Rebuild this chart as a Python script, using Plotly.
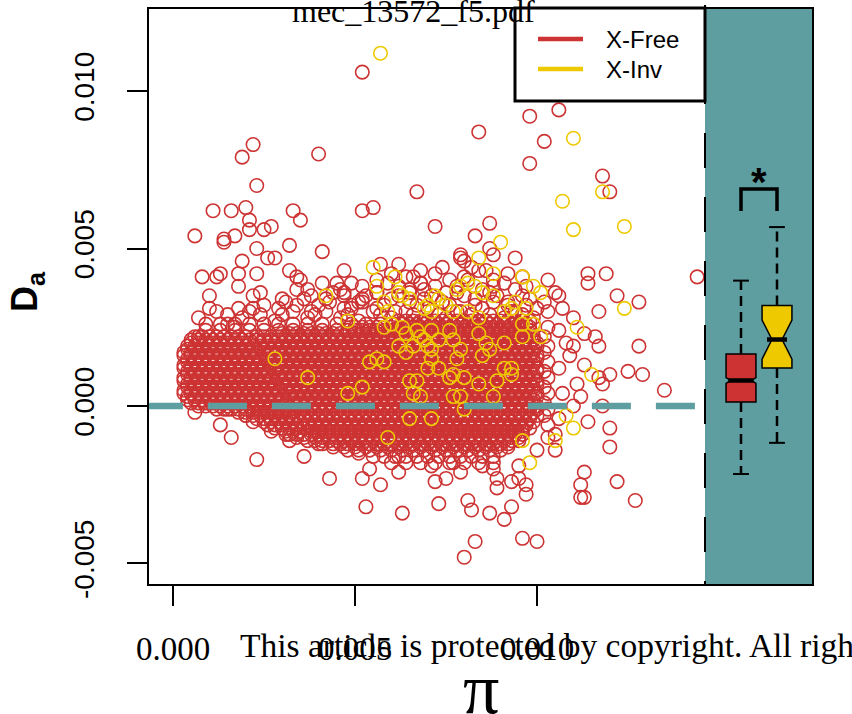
import plotly.graph_objects as go

# ---------------- data ----------------
# X-Free: isolated / sparse points (pi, D_a)
free_pi_sparse = [
    0.0052, 0.0084, 0.0106, 0.0098, 0.0102, 0.0098, 0.0118, 0.0120, 0.0022, 0.0019,
    0.0040, 0.0023, 0.0067, 0.0011, 0.0016, 0.0020, 0.0033, 0.0052, 0.0055, 0.0021,
    0.0021, 0.0035, 0.0025, 0.0027, 0.0072, 0.0087, 0.0006, 0.0014, 0.0014, 0.0017,
    0.0083, 0.0023, 0.0032, 0.0041, 0.0087, 0.0079, 0.0088, 0.0094, 0.0057, 0.0079,
    0.0026, 0.0028, 0.0019, 0.0082, 0.0047, 0.0032, 0.0008, 0.0012, 0.0013, 0.0018,
    0.0023, 0.0034, 0.0035, 0.0041, 0.0045, 0.0066, 0.0096, 0.0103, 0.0114, 0.0114,
    0.0119, 0.0144, 0.0018, 0.0024, 0.0034, 0.0037, 0.0047, 0.0069, 0.0105, 0.0106,
    0.0122, 0.0128, 0.0010, 0.0022, 0.0030, 0.0036, 0.0052, 0.0010, 0.0012, 0.0018,
    0.0022, 0.0049, 0.0117, 0.0007, 0.0009, 0.0015, 0.0017, 0.0007, 0.0113, 0.0116,
    0.0117, 0.0128, 0.0110, 0.0117, 0.0118, 0.0120, 0.0125, 0.0129, 0.0135, 0.0118,
    0.0120, 0.0120, 0.0114, 0.0105, 0.0105, 0.0103, 0.0100, 0.0113, 0.0112, 0.0112,
    0.0113, 0.0122, 0.0127, 0.0095, 0.0095, 0.0093, 0.0097, 0.0097, 0.0089, 0.0089,
    0.0088, 0.0085, 0.0077, 0.0071, 0.0079, 0.0075, 0.0072, 0.0073, 0.0081, 0.0082,
    0.0087, 0.0091, 0.0093, 0.0083, 0.0080, 0.0096, 0.0100, 0.0006, 0.0013, 0.0016,
    0.0023, 0.0015, 0.0020, 0.0022, 0.0027, 0.0031, 0.0032, 0.0036, 0.0040, 0.0043,
    0.0049, 0.0051, 0.0054, 0.0052, 0.0057, 0.0053, 0.0063, 0.0062, 0.0062, 0.0107,
    0.0110, 0.0106, 0.0109, 0.0106, 0.0111, 0.0107, 0.0110, 0.0106, 0.0113, 0.0108,
    0.0112, 0.0103, 0.0103, 0.0103, 0.0103, 0.0103, 0.0103, 0.0103, 0.0103, 0.0102,
    0.0102, 0.0102, 0.0102, 0.0102, 0.0102, 0.0102,
]
free_da_sparse = [
    0.0106, 0.0087, 0.0094, 0.0092, 0.0084, 0.0077, 0.0073, 0.0068, 0.0083, 0.0079,
    0.0080, 0.0070, 0.0068, 0.0062, 0.0062, 0.0063, 0.0062, 0.0062, 0.0063, 0.0059,
    0.0056, 0.0059, 0.0056, 0.0057, 0.0057, 0.0058, 0.0054, 0.0053, 0.0052, 0.0054,
    0.0054, 0.0050, 0.0051, 0.0049, 0.0050, 0.0048, 0.0048, 0.0047, 0.0045, 0.0047,
    0.0047, 0.0047, 0.0046, 0.0044, 0.0043, 0.0043, 0.0041, 0.0041, 0.0042, 0.0042,
    0.0042, 0.0041, 0.0040, 0.0039, 0.0039, 0.0041, 0.0041, 0.0040, 0.0042, 0.0039,
    0.0042, 0.0041, 0.0038, 0.0036, 0.0037, 0.0037, 0.0036, 0.0037, 0.0036, 0.0035,
    0.0035, 0.0033, 0.0035, 0.0035, 0.0034, 0.0034, 0.0034, 0.0031, 0.0030, 0.0031,
    0.0031, 0.0031, 0.0030, 0.0028, 0.0026, 0.0026, 0.0025, 0.0022, 0.0023, 0.0022,
    0.0019, 0.0019, 0.0019, 0.0009, 0.0007, 0.0010, 0.0011, 0.0010, 0.0005, 0.0000,
    -0.0007, -0.0013, -0.0005, -0.0014, -0.0009, -0.0010, -0.0014, -0.0021, -0.0025, -0.0029,
    -0.0029, -0.0024, -0.0030, -0.0019, -0.0023, -0.0024, -0.0028, -0.0025, -0.0023, -0.0026,
    -0.0020, -0.0019, -0.0018, -0.0019, -0.0021, -0.0023, -0.0024, -0.0031, -0.0030, -0.0033,
    -0.0034, -0.0036, -0.0032, -0.0043, -0.0048, -0.0042, -0.0043, -0.0002, -0.0006, -0.0010,
    -0.0017, -0.0001, -0.0003, -0.0005, -0.0008, -0.0009, -0.0011, -0.0016, -0.0012, -0.0023,
    -0.0011, -0.0015, -0.0020, -0.0023, -0.0025, -0.0032, -0.0034, -0.0016, -0.0021, 0.0031,
    0.0028, 0.0024, 0.0016, 0.0012, 0.0007, 0.0004, 0.0000, -0.0004, 0.0013, 0.0020,
    0.0003, 0.0030, 0.0025, 0.0019, 0.0014, 0.0009, 0.0004, -0.0001, -0.0006, 0.0033,
    0.0022, 0.0017, 0.0011, 0.0006, 0.0001, -0.0003,
]

# X-Free: the busy band just above the solid cloud (pi, D_a)
free_pi_upper = [
    0.0062, 0.0068, 0.0074, 0.0080, 0.0086,
    0.0056, 0.0060, 0.0064, 0.0068, 0.0072, 0.0076, 0.0080, 0.0084, 0.0088, 0.0092,
    0.0046, 0.0049, 0.0052, 0.0056, 0.0059, 0.0062, 0.0065, 0.0068, 0.0072, 0.0075,
    0.0078, 0.0081, 0.0085, 0.0088, 0.0091, 0.0094, 0.0097,
    0.0038, 0.0042, 0.0044, 0.0047, 0.0051, 0.0053, 0.0056, 0.0060, 0.0062, 0.0065,
    0.0069, 0.0071, 0.0074, 0.0078, 0.0080, 0.0083, 0.0087, 0.0089, 0.0092, 0.0096, 0.0098,
    0.0025, 0.0029, 0.0031, 0.0034, 0.0038, 0.0040, 0.0043, 0.0047, 0.0049, 0.0052,
    0.0056, 0.0058, 0.0061, 0.0065, 0.0067, 0.0070, 0.0074, 0.0076, 0.0079, 0.0083,
    0.0085, 0.0088, 0.0092, 0.0094, 0.0097, 0.0100,
    0.0015, 0.0019, 0.0021, 0.0024, 0.0028, 0.0030, 0.0033, 0.0037, 0.0039, 0.0042,
    0.0046, 0.0048, 0.0051, 0.0055, 0.0057, 0.0060, 0.0064, 0.0066, 0.0069, 0.0073,
    0.0075, 0.0078, 0.0082, 0.0084, 0.0087, 0.0091, 0.0093, 0.0096, 0.0099,
]
free_da_upper = [
    0.0045, 0.0043, 0.0044, 0.0046, 0.0043,
    0.0040, 0.0042, 0.0041, 0.0039, 0.0042, 0.0040, 0.0041, 0.0043, 0.0040, 0.0042,
    0.0037, 0.0039, 0.0038, 0.0036, 0.0039, 0.0038, 0.0037, 0.0039, 0.0038, 0.0036,
    0.0038, 0.0040, 0.0037, 0.0038, 0.0039, 0.0037, 0.0038,
    0.0035, 0.0034, 0.0036, 0.0035, 0.0033, 0.0035, 0.0036, 0.0034, 0.0035, 0.0036,
    0.0034, 0.0035, 0.0033, 0.0036, 0.0035, 0.0034, 0.0036, 0.0035, 0.0033, 0.0035, 0.0034,
    0.0032, 0.0031, 0.0033, 0.0032, 0.0030, 0.0032, 0.0033, 0.0031, 0.0032, 0.0033,
    0.0031, 0.0032, 0.0030, 0.0033, 0.0032, 0.0031, 0.0033, 0.0032, 0.0030, 0.0032,
    0.0031, 0.0033, 0.0032, 0.0030, 0.0032, 0.0031,
    0.0029, 0.0028, 0.0030, 0.0029, 0.0027, 0.0029, 0.0030, 0.0028, 0.0029, 0.0030,
    0.0028, 0.0029, 0.0027, 0.0030, 0.0029, 0.0028, 0.0030, 0.0029, 0.0027, 0.0029,
    0.0028, 0.0030, 0.0029, 0.0027, 0.0029, 0.0028, 0.0030, 0.0029, 0.0028,
]

# X-Free: the solid cloud, read row by row (D_a of the row, pi of the circles in it)
free_core_da = [
    0.0027, 0.0026, 0.0025, 0.0024,
    0.0023, 0.0022, 0.0021, 0.0020, 0.0019, 0.0018, 0.0017, 0.0016, 0.0015, 0.0014,
    0.0013, 0.0012, 0.0011, 0.0010, 0.0009, 0.0008, 0.0007, 0.0006, 0.0005, 0.0004,
    0.0003, 0.0002, 0.0001, 0.0000, -0.0001, -0.0002, -0.0003, -0.0004, -0.0005, -0.0006,
    -0.0007, -0.0008, -0.0009, -0.0010, -0.0011, -0.0012, -0.0013, -0.0014, -0.0016, -0.0018,
]
free_core_pi = [
    # 0.0027
    [0.0062, 0.0064, 0.0066, 0.0068, 0.0070, 0.0072, 0.0074, 0.0076, 0.0078, 0.0080,
     0.0082, 0.0084, 0.0086, 0.0088, 0.0090, 0.0092, 0.0094, 0.0096, 0.0098],
    # 0.0026
    [0.0013, 0.0017, 0.0021, 0.0025, 0.0029, 0.0033, 0.0037, 0.0041, 0.0045, 0.0049,
     0.0053, 0.0057, 0.0061, 0.0063, 0.0065, 0.0067, 0.0069, 0.0071, 0.0073, 0.0075,
     0.0077, 0.0079, 0.0081, 0.0083, 0.0085, 0.0087, 0.0089, 0.0091, 0.0093, 0.0095,
     0.0097, 0.0099],
    # 0.0025
    [0.0050, 0.0052, 0.0054, 0.0056, 0.0058, 0.0060, 0.0062, 0.0064, 0.0066, 0.0068,
     0.0070, 0.0072, 0.0074, 0.0076, 0.0078, 0.0080, 0.0082, 0.0084, 0.0086, 0.0088,
     0.0090, 0.0092, 0.0094, 0.0096, 0.0098],
    # 0.0024
    [0.0009, 0.0013, 0.0017, 0.0021, 0.0025, 0.0029, 0.0033, 0.0037, 0.0041, 0.0045,
     0.0048, 0.0050, 0.0052, 0.0054, 0.0056, 0.0058, 0.0060, 0.0062, 0.0064, 0.0066,
     0.0068, 0.0070, 0.0072, 0.0074, 0.0076, 0.0078, 0.0080, 0.0082, 0.0084, 0.0086,
     0.0088, 0.0090, 0.0092, 0.0094, 0.0096, 0.0098],
    # 0.0023
    [0.0030, 0.0032, 0.0034, 0.0036, 0.0038, 0.0040, 0.0042, 0.0044, 0.0046, 0.0048,
     0.0050, 0.0052, 0.0054, 0.0056, 0.0058, 0.0060, 0.0062, 0.0064, 0.0066, 0.0068,
     0.0070, 0.0072, 0.0074, 0.0076, 0.0078, 0.0080, 0.0082, 0.0084, 0.0086, 0.0088,
     0.0090, 0.0092, 0.0094, 0.0096, 0.0098],
    # 0.0022
    [0.0006, 0.0008, 0.0010, 0.0012, 0.0014, 0.0016, 0.0018, 0.0020, 0.0023, 0.0025,
     0.0027, 0.0029, 0.0031, 0.0033, 0.0035, 0.0037, 0.0039, 0.0041, 0.0043, 0.0045,
     0.0047, 0.0049, 0.0051, 0.0053, 0.0055, 0.0057, 0.0059, 0.0061, 0.0063, 0.0065,
     0.0067, 0.0069, 0.0071, 0.0073, 0.0075, 0.0077, 0.0079, 0.0081, 0.0083, 0.0085,
     0.0087, 0.0089, 0.0091, 0.0093, 0.0095, 0.0097, 0.0099],
    # 0.0021
    [0.0005, 0.0007, 0.0009, 0.0011, 0.0013, 0.0015, 0.0017, 0.0019, 0.0021, 0.0023,
     0.0025, 0.0027, 0.0029, 0.0031, 0.0033, 0.0035, 0.0037, 0.0039, 0.0041, 0.0043,
     0.0045, 0.0047, 0.0049, 0.0051, 0.0053, 0.0055, 0.0057, 0.0059, 0.0061, 0.0063,
     0.0065, 0.0067, 0.0069, 0.0071, 0.0073, 0.0075, 0.0077, 0.0079, 0.0081, 0.0083,
     0.0085, 0.0087, 0.0089, 0.0091, 0.0093, 0.0095, 0.0097, 0.0099],
    # 0.0020
    [0.0005, 0.0007, 0.0009, 0.0011, 0.0013, 0.0015, 0.0017, 0.0019, 0.0021, 0.0024,
     0.0026, 0.0028, 0.0030, 0.0032, 0.0034, 0.0036, 0.0038, 0.0040, 0.0042, 0.0044,
     0.0046, 0.0048, 0.0050, 0.0052, 0.0054, 0.0056, 0.0058, 0.0060, 0.0062, 0.0064,
     0.0066, 0.0068, 0.0070, 0.0072, 0.0074, 0.0076, 0.0078, 0.0080, 0.0082, 0.0084,
     0.0086, 0.0088, 0.0090, 0.0092, 0.0094, 0.0096, 0.0098, 0.0100],
    # 0.0019
    [0.0004, 0.0006, 0.0008, 0.0010, 0.0012, 0.0014, 0.0016, 0.0018, 0.0020, 0.0022,
     0.0024, 0.0026, 0.0028, 0.0030, 0.0032, 0.0034, 0.0036, 0.0038, 0.0040, 0.0042,
     0.0044, 0.0046, 0.0048, 0.0050, 0.0052, 0.0054, 0.0056, 0.0058, 0.0060, 0.0062,
     0.0064, 0.0066, 0.0068, 0.0070, 0.0072, 0.0074, 0.0076, 0.0078, 0.0080, 0.0082,
     0.0084, 0.0086, 0.0088, 0.0090, 0.0092, 0.0094, 0.0096, 0.0098, 0.0100],
    # 0.0018
    [0.0004, 0.0006, 0.0008, 0.0010, 0.0012, 0.0014, 0.0016, 0.0018, 0.0020, 0.0022,
     0.0025, 0.0027, 0.0029, 0.0031, 0.0033, 0.0035, 0.0037, 0.0039, 0.0041, 0.0043,
     0.0045, 0.0047, 0.0049, 0.0051, 0.0053, 0.0055, 0.0057, 0.0059, 0.0061, 0.0063,
     0.0065, 0.0067, 0.0069, 0.0071, 0.0073, 0.0075, 0.0077, 0.0079, 0.0081, 0.0083,
     0.0085, 0.0087, 0.0089, 0.0091, 0.0093, 0.0095, 0.0097, 0.0099],
    # 0.0017
    [0.0003, 0.0005, 0.0007, 0.0009, 0.0011, 0.0013, 0.0015, 0.0017, 0.0019, 0.0021,
     0.0023, 0.0025, 0.0027, 0.0029, 0.0031, 0.0033, 0.0035, 0.0037, 0.0039, 0.0041,
     0.0043, 0.0045, 0.0047, 0.0049, 0.0051, 0.0053, 0.0055, 0.0057, 0.0059, 0.0061,
     0.0063, 0.0065, 0.0067, 0.0069, 0.0071, 0.0073, 0.0075, 0.0077, 0.0079, 0.0081,
     0.0083, 0.0085, 0.0087, 0.0089, 0.0091, 0.0093, 0.0095, 0.0097, 0.0099],
    # 0.0016
    [0.0003, 0.0005, 0.0007, 0.0009, 0.0011, 0.0013, 0.0015, 0.0017, 0.0019, 0.0021,
     0.0023, 0.0026, 0.0028, 0.0030, 0.0032, 0.0034, 0.0036, 0.0038, 0.0040, 0.0042,
     0.0044, 0.0046, 0.0048, 0.0050, 0.0052, 0.0054, 0.0056, 0.0058, 0.0060, 0.0062,
     0.0064, 0.0066, 0.0068, 0.0070, 0.0072, 0.0074, 0.0076, 0.0078, 0.0080, 0.0082,
     0.0084, 0.0086, 0.0088, 0.0090, 0.0092, 0.0094, 0.0096, 0.0098, 0.0100],
    # 0.0015
    [0.0004, 0.0006, 0.0008, 0.0010, 0.0012, 0.0014, 0.0016, 0.0018, 0.0020,
     0.0022, 0.0024, 0.0026, 0.0028, 0.0030, 0.0032, 0.0034, 0.0036, 0.0038, 0.0040,
     0.0042, 0.0044, 0.0046, 0.0048, 0.0050, 0.0052, 0.0054, 0.0056, 0.0058, 0.0060,
     0.0062, 0.0064, 0.0066, 0.0068, 0.0070, 0.0072, 0.0074, 0.0076, 0.0078, 0.0080,
     0.0082, 0.0084, 0.0086, 0.0088, 0.0090, 0.0092, 0.0094, 0.0096, 0.0098, 0.0100],
    # 0.0014
    [0.0004, 0.0006, 0.0008, 0.0010, 0.0012, 0.0014, 0.0016, 0.0018, 0.0020,
     0.0022, 0.0024, 0.0027, 0.0029, 0.0031, 0.0033, 0.0035, 0.0037, 0.0039, 0.0041,
     0.0043, 0.0045, 0.0047, 0.0049, 0.0051, 0.0053, 0.0055, 0.0057, 0.0059, 0.0061,
     0.0063, 0.0065, 0.0067, 0.0069, 0.0071, 0.0073, 0.0075, 0.0077, 0.0079, 0.0081,
     0.0083, 0.0085, 0.0087, 0.0089, 0.0091, 0.0093, 0.0095, 0.0097, 0.0099],
    # 0.0013
    [0.0003, 0.0005, 0.0007, 0.0009, 0.0011, 0.0013, 0.0015, 0.0017, 0.0019, 0.0021,
     0.0023, 0.0025, 0.0027, 0.0029, 0.0031, 0.0033, 0.0035, 0.0037, 0.0039, 0.0041,
     0.0043, 0.0045, 0.0047, 0.0049, 0.0051, 0.0053, 0.0055, 0.0057, 0.0059, 0.0061,
     0.0063, 0.0065, 0.0067, 0.0069, 0.0071, 0.0073, 0.0075, 0.0077, 0.0079, 0.0081,
     0.0083, 0.0085, 0.0087, 0.0089, 0.0091, 0.0093, 0.0095, 0.0097, 0.0099],
    # 0.0012
    [0.0003, 0.0005, 0.0007, 0.0009, 0.0011, 0.0013, 0.0015, 0.0017, 0.0019, 0.0021,
     0.0023, 0.0025, 0.0028, 0.0030, 0.0032, 0.0034, 0.0036, 0.0038, 0.0040, 0.0042,
     0.0044, 0.0046, 0.0048, 0.0050, 0.0052, 0.0054, 0.0056, 0.0058, 0.0060, 0.0062,
     0.0064, 0.0066, 0.0068, 0.0070, 0.0072, 0.0074, 0.0076, 0.0078, 0.0080, 0.0082,
     0.0084, 0.0086, 0.0088, 0.0090, 0.0092, 0.0094, 0.0096, 0.0098, 0.0100],
    # 0.0011
    [0.0004, 0.0006, 0.0008, 0.0010, 0.0012, 0.0014, 0.0016, 0.0018, 0.0020,
     0.0022, 0.0024, 0.0026, 0.0028, 0.0030, 0.0032, 0.0034, 0.0036, 0.0038, 0.0040,
     0.0042, 0.0044, 0.0046, 0.0048, 0.0050, 0.0052, 0.0054, 0.0056, 0.0058, 0.0060,
     0.0062, 0.0064, 0.0066, 0.0068, 0.0070, 0.0072, 0.0074, 0.0076, 0.0078, 0.0080,
     0.0082, 0.0084, 0.0086, 0.0088, 0.0090, 0.0092, 0.0094, 0.0096, 0.0098, 0.0100],
    # 0.0010
    [0.0004, 0.0006, 0.0008, 0.0010, 0.0012, 0.0014, 0.0016, 0.0018, 0.0020,
     0.0022, 0.0024, 0.0026, 0.0029, 0.0031, 0.0033, 0.0035, 0.0037, 0.0039, 0.0041,
     0.0043, 0.0045, 0.0047, 0.0049, 0.0051, 0.0053, 0.0055, 0.0057, 0.0059, 0.0061,
     0.0063, 0.0065, 0.0067, 0.0069, 0.0071, 0.0073, 0.0075, 0.0077, 0.0079, 0.0081,
     0.0083, 0.0085, 0.0087, 0.0089, 0.0091, 0.0093, 0.0095, 0.0097, 0.0099],
    # 0.0009
    [0.0003, 0.0005, 0.0007, 0.0009, 0.0011, 0.0013, 0.0015, 0.0017, 0.0019, 0.0021,
     0.0023, 0.0025, 0.0027, 0.0029, 0.0031, 0.0033, 0.0035, 0.0037, 0.0039, 0.0041,
     0.0043, 0.0045, 0.0047, 0.0049, 0.0051, 0.0053, 0.0055, 0.0057, 0.0059, 0.0061,
     0.0063, 0.0065, 0.0067, 0.0069, 0.0071, 0.0073, 0.0075, 0.0077, 0.0079, 0.0081,
     0.0083, 0.0085, 0.0087, 0.0089, 0.0091, 0.0093, 0.0095, 0.0097, 0.0099],
    # 0.0008
    [0.0003, 0.0005, 0.0007, 0.0009, 0.0011, 0.0013, 0.0015, 0.0017, 0.0019, 0.0021,
     0.0023, 0.0025, 0.0027, 0.0030, 0.0032, 0.0034, 0.0036, 0.0038, 0.0040, 0.0042,
     0.0044, 0.0046, 0.0048, 0.0050, 0.0052, 0.0054, 0.0056, 0.0058, 0.0060, 0.0062,
     0.0064, 0.0066, 0.0068, 0.0070, 0.0072, 0.0074, 0.0076, 0.0078, 0.0080, 0.0082,
     0.0084, 0.0086, 0.0088, 0.0090, 0.0092, 0.0094, 0.0096, 0.0098, 0.0100],
    # 0.0007
    [0.0004, 0.0006, 0.0008, 0.0010, 0.0012, 0.0014, 0.0016, 0.0018, 0.0020,
     0.0022, 0.0024, 0.0026, 0.0028, 0.0030, 0.0032, 0.0034, 0.0036, 0.0038, 0.0040,
     0.0042, 0.0044, 0.0046, 0.0048, 0.0050, 0.0052, 0.0054, 0.0056, 0.0058, 0.0060,
     0.0062, 0.0064, 0.0066, 0.0068, 0.0070, 0.0072, 0.0074, 0.0076, 0.0078, 0.0080,
     0.0082, 0.0084, 0.0086, 0.0088, 0.0090, 0.0092, 0.0094, 0.0096, 0.0098, 0.0100],
    # 0.0006
    [0.0004, 0.0006, 0.0008, 0.0010, 0.0012, 0.0014, 0.0016, 0.0018, 0.0020,
     0.0022, 0.0024, 0.0026, 0.0028, 0.0031, 0.0033, 0.0035, 0.0037, 0.0039, 0.0041,
     0.0043, 0.0045, 0.0047, 0.0049, 0.0051, 0.0053, 0.0055, 0.0057, 0.0059, 0.0061,
     0.0063, 0.0065, 0.0067, 0.0069, 0.0071, 0.0073, 0.0075, 0.0077, 0.0079, 0.0081,
     0.0083, 0.0085, 0.0087, 0.0089, 0.0091, 0.0093, 0.0095, 0.0097, 0.0099],
    # 0.0005
    [0.0003, 0.0005, 0.0007, 0.0009, 0.0011, 0.0013, 0.0015, 0.0017, 0.0019, 0.0021,
     0.0023, 0.0025, 0.0027, 0.0029, 0.0031, 0.0033, 0.0035, 0.0037, 0.0039, 0.0041,
     0.0043, 0.0045, 0.0047, 0.0049, 0.0051, 0.0053, 0.0055, 0.0057, 0.0059, 0.0061,
     0.0063, 0.0065, 0.0067, 0.0069, 0.0071, 0.0073, 0.0075, 0.0077, 0.0079, 0.0081,
     0.0083, 0.0085, 0.0087, 0.0089, 0.0091, 0.0093, 0.0095, 0.0097, 0.0099],
    # 0.0004
    [0.0003, 0.0005, 0.0007, 0.0009, 0.0011, 0.0013, 0.0015, 0.0017, 0.0019, 0.0021,
     0.0023, 0.0025, 0.0027, 0.0029, 0.0032, 0.0034, 0.0036, 0.0038, 0.0040, 0.0042,
     0.0044, 0.0046, 0.0048, 0.0050, 0.0052, 0.0054, 0.0056, 0.0058, 0.0060, 0.0062,
     0.0064, 0.0066, 0.0068, 0.0070, 0.0072, 0.0074, 0.0076, 0.0078, 0.0080, 0.0082,
     0.0084, 0.0086, 0.0088, 0.0090, 0.0092, 0.0094, 0.0096, 0.0098, 0.0100],
    # 0.0003
    [0.0004, 0.0006, 0.0008, 0.0010, 0.0012, 0.0014, 0.0016, 0.0018, 0.0020, 0.0022,
     0.0024, 0.0026, 0.0028, 0.0030, 0.0032, 0.0034, 0.0036, 0.0038, 0.0040, 0.0042,
     0.0044, 0.0046, 0.0048, 0.0050, 0.0052, 0.0054, 0.0056, 0.0058, 0.0060, 0.0062,
     0.0064, 0.0066, 0.0068, 0.0070, 0.0072, 0.0074, 0.0076, 0.0078, 0.0080, 0.0082,
     0.0084, 0.0086, 0.0088, 0.0090, 0.0092, 0.0094, 0.0096, 0.0098, 0.0100],
    # 0.0002
    [0.0004, 0.0006, 0.0008, 0.0010, 0.0012, 0.0014, 0.0016, 0.0018, 0.0020, 0.0022,
     0.0024, 0.0026, 0.0028, 0.0030, 0.0033, 0.0035, 0.0037, 0.0039, 0.0041, 0.0043,
     0.0045, 0.0047, 0.0049, 0.0051, 0.0053, 0.0055, 0.0057, 0.0059, 0.0061, 0.0063,
     0.0065, 0.0067, 0.0069, 0.0071, 0.0073, 0.0075, 0.0077, 0.0079, 0.0081, 0.0083,
     0.0085, 0.0087, 0.0089, 0.0091, 0.0093, 0.0095, 0.0097, 0.0099],
    # 0.0001
    [0.0005, 0.0007, 0.0009, 0.0011, 0.0013, 0.0015, 0.0017, 0.0019, 0.0021, 0.0023,
     0.0025, 0.0027, 0.0029, 0.0031, 0.0033, 0.0035, 0.0037, 0.0039, 0.0041, 0.0043,
     0.0045, 0.0047, 0.0049, 0.0051, 0.0053, 0.0055, 0.0057, 0.0059, 0.0061, 0.0063,
     0.0065, 0.0067, 0.0069, 0.0071, 0.0073, 0.0075, 0.0077, 0.0079, 0.0081, 0.0083,
     0.0085, 0.0087, 0.0089, 0.0091, 0.0093, 0.0095, 0.0097, 0.0099],
    # 0.0000
    [0.0007, 0.0009, 0.0011, 0.0013, 0.0015, 0.0017, 0.0019, 0.0021, 0.0023, 0.0025,
     0.0027, 0.0029, 0.0031, 0.0034, 0.0036, 0.0038, 0.0040, 0.0042, 0.0044, 0.0046,
     0.0048, 0.0050, 0.0052, 0.0054, 0.0056, 0.0058, 0.0060, 0.0062, 0.0064, 0.0066,
     0.0068, 0.0070, 0.0072, 0.0074, 0.0076, 0.0078, 0.0080, 0.0082, 0.0084, 0.0086,
     0.0088, 0.0090, 0.0092, 0.0094, 0.0096, 0.0098, 0.0100],
    # -0.0001
    [0.0012, 0.0014, 0.0016, 0.0018, 0.0020, 0.0022, 0.0024, 0.0026, 0.0028, 0.0030,
     0.0032, 0.0034, 0.0036, 0.0038, 0.0040, 0.0042, 0.0044, 0.0046, 0.0048, 0.0050,
     0.0052, 0.0054, 0.0056, 0.0058, 0.0060, 0.0062, 0.0064, 0.0066, 0.0068, 0.0070,
     0.0072, 0.0074, 0.0076, 0.0078, 0.0080, 0.0082, 0.0084, 0.0086, 0.0088, 0.0090,
     0.0092, 0.0094, 0.0096, 0.0098, 0.0100],
    # -0.0002
    [0.0018, 0.0020, 0.0022, 0.0024, 0.0026, 0.0028, 0.0030, 0.0032, 0.0035, 0.0037,
     0.0039, 0.0041, 0.0043, 0.0045, 0.0047, 0.0049, 0.0051, 0.0053, 0.0055, 0.0057,
     0.0059, 0.0061, 0.0063, 0.0065, 0.0067, 0.0069, 0.0071, 0.0073, 0.0075, 0.0077,
     0.0079, 0.0081, 0.0083, 0.0085, 0.0087, 0.0089, 0.0091, 0.0093, 0.0095, 0.0097, 0.0099],
    # -0.0003
    [0.0020, 0.0022, 0.0024, 0.0026, 0.0028, 0.0030, 0.0032, 0.0034, 0.0036, 0.0038,
     0.0040, 0.0042, 0.0044, 0.0046, 0.0048, 0.0050, 0.0052, 0.0054, 0.0056, 0.0058,
     0.0060, 0.0062, 0.0064, 0.0066, 0.0068, 0.0070, 0.0072, 0.0074, 0.0076, 0.0078,
     0.0080, 0.0082, 0.0084, 0.0086, 0.0088, 0.0090, 0.0092, 0.0094, 0.0096, 0.0098, 0.0100],
    # -0.0004
    [0.0023, 0.0025, 0.0027, 0.0029, 0.0031, 0.0033, 0.0036, 0.0038, 0.0040, 0.0042,
     0.0044, 0.0046, 0.0048, 0.0050, 0.0052, 0.0054, 0.0056, 0.0058, 0.0060, 0.0062,
     0.0064, 0.0066, 0.0068, 0.0070, 0.0072, 0.0074, 0.0076, 0.0078, 0.0080, 0.0082,
     0.0084, 0.0086, 0.0088, 0.0090, 0.0092, 0.0094, 0.0096, 0.0098],
    # -0.0005
    [0.0025, 0.0027, 0.0029, 0.0031, 0.0033, 0.0035, 0.0037, 0.0039, 0.0041, 0.0043,
     0.0045, 0.0047, 0.0049, 0.0051, 0.0053, 0.0055, 0.0057, 0.0059, 0.0061, 0.0063,
     0.0065, 0.0067, 0.0069, 0.0071, 0.0073, 0.0075, 0.0077, 0.0079, 0.0081, 0.0083,
     0.0085, 0.0087, 0.0089, 0.0091, 0.0093, 0.0095, 0.0097, 0.0099],
    # -0.0006
    [0.0026, 0.0028, 0.0030, 0.0032, 0.0034, 0.0037, 0.0039, 0.0041, 0.0043, 0.0045,
     0.0047, 0.0049, 0.0051, 0.0053, 0.0055, 0.0057, 0.0059, 0.0061, 0.0063, 0.0065,
     0.0067, 0.0069, 0.0071, 0.0073, 0.0075, 0.0077, 0.0079, 0.0081, 0.0083, 0.0085,
     0.0087, 0.0089, 0.0091, 0.0093, 0.0095, 0.0097],
    # -0.0007
    [0.0028, 0.0030, 0.0032, 0.0034, 0.0036, 0.0038, 0.0040, 0.0042, 0.0044, 0.0046,
     0.0048, 0.0050, 0.0052, 0.0054, 0.0056, 0.0058, 0.0060, 0.0062, 0.0064, 0.0066,
     0.0068, 0.0070, 0.0072, 0.0074, 0.0076, 0.0078, 0.0080, 0.0082, 0.0084, 0.0086,
     0.0088, 0.0090, 0.0092, 0.0094, 0.0096, 0.0098],
    # -0.0008
    [0.0031, 0.0033, 0.0035, 0.0038, 0.0040, 0.0042, 0.0044, 0.0046, 0.0048, 0.0050,
     0.0052, 0.0054, 0.0056, 0.0058, 0.0060, 0.0062, 0.0064, 0.0066, 0.0068, 0.0070,
     0.0072, 0.0074, 0.0076, 0.0078, 0.0080, 0.0082, 0.0084, 0.0086, 0.0088, 0.0090,
     0.0092, 0.0094, 0.0096],
    # -0.0009
    [0.0032, 0.0034, 0.0036, 0.0038, 0.0040, 0.0042, 0.0044, 0.0046, 0.0048, 0.0050,
     0.0052, 0.0054, 0.0056, 0.0058, 0.0060, 0.0062, 0.0064, 0.0066, 0.0068, 0.0070,
     0.0072, 0.0074, 0.0076, 0.0078, 0.0080, 0.0082, 0.0084, 0.0086, 0.0088, 0.0090,
     0.0092, 0.0094, 0.0096],
    # -0.0010
    [0.0034, 0.0036, 0.0039, 0.0041, 0.0043, 0.0045, 0.0047, 0.0049, 0.0051, 0.0053,
     0.0055, 0.0057, 0.0059, 0.0061, 0.0063, 0.0065, 0.0067, 0.0069, 0.0071, 0.0073,
     0.0075, 0.0077, 0.0079, 0.0081, 0.0083, 0.0085, 0.0087, 0.0089, 0.0091, 0.0093, 0.0095],
    # -0.0011
    [0.0037, 0.0039, 0.0041, 0.0043, 0.0045, 0.0047, 0.0049, 0.0051, 0.0053, 0.0055,
     0.0057, 0.0059, 0.0061, 0.0063, 0.0065, 0.0067, 0.0069, 0.0071, 0.0073, 0.0075,
     0.0077, 0.0079, 0.0081, 0.0083, 0.0085, 0.0087, 0.0089, 0.0091, 0.0093, 0.0095],
    # -0.0012
    [0.0041, 0.0044, 0.0046, 0.0048, 0.0050, 0.0052, 0.0054, 0.0056, 0.0058, 0.0060,
     0.0062, 0.0064, 0.0066, 0.0068, 0.0070, 0.0072, 0.0074, 0.0076, 0.0078, 0.0080,
     0.0082, 0.0084, 0.0086, 0.0088, 0.0090, 0.0092],
    # -0.0013
    [0.0044, 0.0047, 0.0050, 0.0053, 0.0056, 0.0059, 0.0062, 0.0065, 0.0068, 0.0071,
     0.0074, 0.0077, 0.0080, 0.0083, 0.0086, 0.0089, 0.0092],
    # -0.0014
    [0.0048, 0.0051, 0.0054, 0.0057, 0.0060, 0.0063, 0.0066, 0.0069, 0.0072, 0.0075,
     0.0078, 0.0081, 0.0084, 0.0087, 0.0090],
    # -0.0016
    [0.0055, 0.0058, 0.0061, 0.0064, 0.0067, 0.0070, 0.0073, 0.0076, 0.0079, 0.0082,
     0.0085, 0.0088],
    # -0.0018
    [0.0060, 0.0064, 0.0068, 0.0072, 0.0076, 0.0080, 0.0084, 0.0088],
]

# X-Inv points (pi, D_a)
inv_pi = [
    0.0057, 0.0110, 0.0118, 0.0107, 0.0110, 0.0124, 0.0090, 0.0084, 0.0088, 0.0096,
    0.0099, 0.0101, 0.0124, 0.0111, 0.0115, 0.0055, 0.0056, 0.0061, 0.0063, 0.0065,
    0.0048, 0.0042, 0.0058, 0.0059, 0.0060, 0.0058, 0.0069, 0.0071, 0.0073, 0.0075,
    0.0078, 0.0079, 0.0081, 0.0083, 0.0085, 0.0088, 0.0077, 0.0081, 0.0084, 0.0091,
    0.0093, 0.0094, 0.0097, 0.0096, 0.0099, 0.0101, 0.0096, 0.0091, 0.0062, 0.0064,
    0.0066, 0.0068, 0.0071, 0.0073, 0.0071, 0.0071, 0.0070, 0.0073, 0.0076, 0.0077,
    0.0079, 0.0078, 0.0077, 0.0080, 0.0084, 0.0086, 0.0087, 0.0085, 0.0091, 0.0093,
    0.0093, 0.0089, 0.0084, 0.0077, 0.0079, 0.0088, 0.0067, 0.0066, 0.0054, 0.0056,
    0.0058, 0.0048, 0.0052, 0.0064, 0.0067, 0.0028, 0.0037, 0.0063, 0.0062, 0.0070,
    0.0072, 0.0069, 0.0070, 0.0065, 0.0068, 0.0076, 0.0065, 0.0071, 0.0059, 0.0080,
    0.0096, 0.0098, 0.0105, 0.0108, 0.0110,
]
inv_da = [
    0.0112, 0.0085, 0.0068, 0.0065, 0.0056, 0.0057, 0.0052, 0.0047, 0.0042, 0.0041,
    0.0038, 0.0036, 0.0031, 0.0025, 0.0010, 0.0044, 0.0038, 0.0041, 0.0035, 0.0034,
    0.0027, 0.0035, 0.0033, 0.0030, 0.0026, 0.0025, 0.0031, 0.0030, 0.0034, 0.0032,
    0.0037, 0.0038, 0.0039, 0.0038, 0.0036, 0.0035, 0.0030, 0.0030, 0.0028, 0.0030,
    0.0031, 0.0033, 0.0031, 0.0026, 0.0026, 0.0022, 0.0022, 0.0020, 0.0019, 0.0017,
    0.0019, 0.0022, 0.0024, 0.0021, 0.0018, 0.0015, 0.0012, 0.0012, 0.0024, 0.0021,
    0.0018, 0.0015, 0.0010, 0.0009, 0.0023, 0.0020, 0.0018, 0.0016, 0.0012, 0.0012,
    0.0010, 0.0008, 0.0007, 0.0003, 0.0003, 0.0003, 0.0008, 0.0004, 0.0014, 0.0015,
    0.0014, 0.0004, 0.0006, 0.0023, 0.0024, 0.0015, 0.0009, 0.0025, 0.0036, 0.0032,
    0.0035, 0.0021, 0.0019, 0.0008, 0.0003, 0.0009, -0.0004, -0.0004, -0.0010, -0.0001,
    -0.0011, -0.0018, -0.0011, -0.0003, -0.0007,
]

# box-plot summary per group (D_a)
groups = ["X-Free", "X-Inv"]
group_colors = ["#CD3333", "#EEC900"]
box_pos = [1, 2]
box_q1 = [0.00013, 0.00121]
box_median = [0.00081, 0.00211]
box_q3 = [0.00165, 0.00319]
box_whisker_low = [-0.00216, -0.00117]
box_whisker_high = [0.00398, 0.00568]
box_notchspan = [0.00009, 0.00062]
box_notchwidth = [0.15, 0.33]
bracket_low = 0.00619
bracket_high = 0.00689
star_y = 0.0071

x_ticks = [0.0, 0.005, 0.010]
x_ticklabels = ["0.000", "0.005", "0.010"]
y_ticks = [-0.005, 0.0, 0.005, 0.010]
y_ticklabels = ["-0.005", "0.000", "0.005", "0.010"]

# ---------------- figure ----------------
TEAL = "#5F9EA0"
free_pi = list(free_pi_sparse) + list(free_pi_upper)
free_da = list(free_da_sparse) + list(free_da_upper)
for d, row in zip(free_core_da, free_core_pi):
    free_pi += row
    free_da += [d] * len(row)

fig = go.Figure()
fig.add_trace(go.Scatter(
    x=free_pi, y=free_da, mode="markers", name="X-Free", showlegend=False,
    marker=dict(symbol="circle-open", size=13.5, color=group_colors[0], line=dict(width=1.6)),
    hoverinfo="skip"))
fig.add_trace(go.Scatter(
    x=inv_pi, y=inv_da, mode="markers", name="X-Inv", showlegend=False,
    marker=dict(symbol="circle-open", size=13.5, color=group_colors[1], line=dict(width=1.6)),
    hoverinfo="skip"))
# dashed reference line at D_a = 0
fig.add_trace(go.Scatter(
    x=[-0.0008, 0.01434], y=[0, 0], mode="lines", showlegend=False, hoverinfo="skip",
    line=dict(color=TEAL, width=6.5, dash="39px,25px")))

# box plots in the right panel
bw = 0.83
for i in range(2):
    fig.add_trace(go.Box(
        x=[box_pos[i]], q1=[box_q1[i]], median=[box_median[i]], q3=[box_q3[i]],
        lowerfence=[box_q1[i]], upperfence=[box_q3[i]],
        notched=True, notchspan=[box_notchspan[i]], notchwidth=box_notchwidth[i],
        width=bw, whiskerwidth=0, boxpoints=False, name=groups[i],
        fillcolor=group_colors[i], line=dict(color="black", width=1.5),
        xaxis="x2", yaxis="y", showlegend=False, hoverinfo="skip"))
    p = box_pos[i]
    for a, b in [(box_q3[i], box_whisker_high[i]), (box_q1[i], box_whisker_low[i])]:
        fig.add_trace(go.Scatter(
            x=[p, p], y=[a, b], mode="lines", xaxis="x2", yaxis="y", showlegend=False,
            hoverinfo="skip", line=dict(color="black", width=2.5, dash="10px,6px")))
    for w in [box_whisker_high[i], box_whisker_low[i]]:
        fig.add_trace(go.Scatter(
            x=[p - 0.22, p + 0.22], y=[w, w], mode="lines", xaxis="x2", yaxis="y",
            showlegend=False, hoverinfo="skip", line=dict(color="black", width=2)))
    hw = bw / 2 * (1 - box_notchwidth[i])
    fig.add_trace(go.Scatter(
        x=[p - hw, p + hw], y=[box_median[i], box_median[i]], mode="lines",
        xaxis="x2", yaxis="y", showlegend=False, hoverinfo="skip",
        line=dict(color="black", width=4.5)))

# significance bracket
fig.add_trace(go.Scatter(
    x=[box_pos[0], box_pos[0], box_pos[1], box_pos[1]],
    y=[bracket_low, bracket_high, bracket_high, bracket_low],
    mode="lines", xaxis="x2", yaxis="y", showlegend=False, hoverinfo="skip",
    line=dict(color="black", width=3.5)))

PX0, PX1, PY0, PY1 = 148, 813, 8, 585
def px(x):
    return (x - PX0) / (PX1 - PX0)
def py(y):
    return (PY1 - y) / (PY1 - PY0)

split = px(705)
shapes = [
    dict(type="rect", xref="x2 domain", yref="y domain", x0=0, x1=1, y0=0, y1=1,
         fillcolor=TEAL, line=dict(width=0), layer="below"),
    dict(type="line", xref="paper", yref="paper", x0=split, x1=split, y0=py(5), y1=0,
         line=dict(color="black", width=2, dash="35px,29px"), layer="above"),
    dict(type="rect", xref="paper", yref="paper", x0=0, x1=1, y0=0, y1=1,
         line=dict(color="black", width=2), fillcolor="rgba(0,0,0,0)", layer="above"),
    # legend box
    dict(type="rect", xref="paper", yref="paper", x0=px(515), x1=split, y0=py(101), y1=1,
         line=dict(color="black", width=3), fillcolor="white", layer="above"),
    dict(type="line", xref="paper", yref="paper", x0=px(538), x1=px(583), y0=py(39), y1=py(39),
         line=dict(color=group_colors[0], width=4.5), layer="above"),
    dict(type="line", xref="paper", yref="paper", x0=px(538), x1=px(583), y0=py(69), y1=py(69),
         line=dict(color=group_colors[1], width=4.5), layer="above"),
]

sans = "Liberation Sans, Arial, sans-serif"
serif = "Liberation Serif, Times New Roman, serif"
annotations = [
    dict(text=groups[0], xref="paper", yref="paper", x=px(604), y=py(40), xanchor="left",
         yanchor="middle", showarrow=False, font=dict(family=sans, size=24, color="black")),
    dict(text=groups[1], xref="paper", yref="paper", x=px(604), y=py(70), xanchor="left",
         yanchor="middle", showarrow=False, font=dict(family=sans, size=24, color="black")),
    dict(text="<b>*</b>", xref="x2", yref="y", x=1.5, y=star_y, showarrow=False,
         xanchor="center", yanchor="middle", font=dict(family=sans, size=40, color="black")),
    dict(text="mec_13572_f5.pdf", xref="paper", yref="paper", x=px(413), y=py(11),
         xanchor="center", yanchor="middle", showarrow=False,
         font=dict(family=serif, size=32, color="black")),
    dict(text="This article is protected by copyright. All righ", xref="paper", yref="paper",
         x=px(238), y=py(645), xanchor="left", yanchor="middle", showarrow=False,
         font=dict(family=serif, size=33.5, color="black")),
    dict(text="π", xref="paper", yref="paper", x=px(481), y=py(689), xanchor="center",
         yanchor="middle", showarrow=False, font=dict(family=serif, size=72, color="black")),
    dict(text="<b>D<sub>a</sub></b>", xref="paper", yref="paper", x=px(27), y=py(292),
         xanchor="center", yanchor="middle", textangle=-90, showarrow=False,
         font=dict(family=sans, size=36, color="black")),
]

fig.update_layout(
    template="none",
    width=852, height=714,
    margin=dict(l=PX0, r=852 - PX1, t=PY0, b=714 - PY1, pad=0),
    paper_bgcolor="white", plot_bgcolor="white",
    showlegend=False,
    xaxis=dict(domain=[0, split], range=[-0.000687, 0.014615], tickvals=x_ticks,
               ticktext=x_ticklabels, ticks="outside", ticklen=20, tickwidth=1.5,
               tickcolor="black", showline=False, showgrid=False, zeroline=False,
               tickfont=dict(family=serif, size=33, color="black"),
               ticklabelstandoff=14, automargin=False, fixedrange=True),
    xaxis2=dict(domain=[split, 1], range=[0, 3], anchor="y", visible=False,
                showgrid=False, zeroline=False, fixedrange=True),
    yaxis=dict(range=[-0.005683, 0.012635], tickvals=y_ticks, ticktext=y_ticklabels,
               ticks="outside", ticklen=20, tickwidth=1.5, tickcolor="black",
               tickangle=-90, showline=False, showgrid=False, zeroline=False,
               tickfont=dict(family=sans, size=28, color="black"),
               ticklabelstandoff=22, automargin=False, fixedrange=True),
    shapes=shapes,
    annotations=annotations,
)

fig.write_html("out.html", config={"displayModeBar": False},
               post_script="document.body.style.margin='0';")
